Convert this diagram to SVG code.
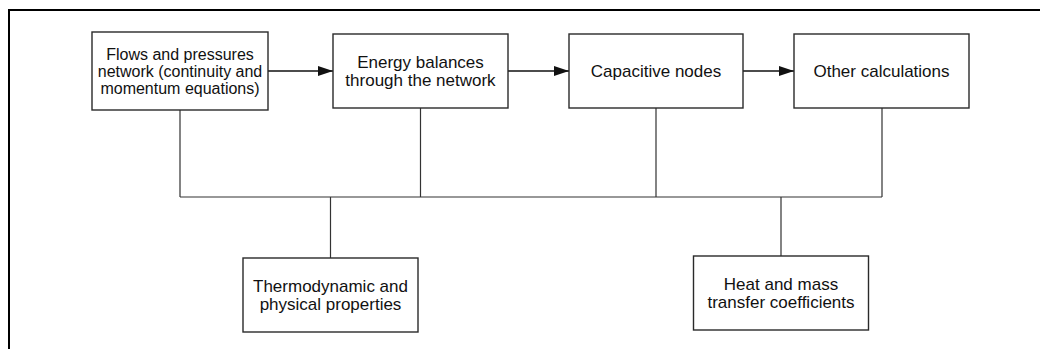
<svg xmlns="http://www.w3.org/2000/svg" width="1040" height="349" viewBox="0 0 1040 349">
  <style>
    .box { fill: #ffffff; stroke: #2a2a2a; stroke-width: 1.4; }
    .lbl { font-family: "Liberation Sans", Arial, sans-serif; font-size: 17px; fill: #111111; text-anchor: middle; }
    .small { font-size: 16px; }
    .wire { fill: none; stroke: #333333; stroke-width: 1.2; }
    .flow { fill: none; stroke: #111111; stroke-width: 1.3; marker-end: url(#head); }
  </style>
  <defs>
    <marker id="head" viewBox="0 0 15 10" refX="15" refY="5" markerWidth="15" markerHeight="10" markerUnits="userSpaceOnUse" orient="auto">
      <path d="M0,0 L15,5 L0,10 Z" fill="#111111"/>
    </marker>
  </defs>

  <rect x="0" y="0" width="1040" height="349" fill="#ffffff"/>
  <!-- outer frame, open at right and bottom -->
  <path d="M9,349 L9,10 L1040,10" fill="none" stroke="#000000" stroke-width="2"/>

  <g id="connectors">
    <line class="flow" x1="268" y1="71" x2="333" y2="71"/>
    <line class="flow" x1="508" y1="71" x2="569" y2="71"/>
    <line class="flow" x1="743" y1="71" x2="794" y2="71"/>
    <!-- shared bus to the property blocks -->
    <path class="wire" d="M180,110 V197 M420.5,108 V197 M656,108 V197 M882,108 V197 M180,197 H882 M330.5,197 V258 M781,197 V256"/>
  </g>

  <g id="flows-pressures">
    <rect class="box" x="92" y="32" width="176" height="78"/>
    <text class="lbl small" x="180" y="60">Flows and pressures</text>
    <text class="lbl small" x="180" y="77">network (continuity and</text>
    <text class="lbl small" x="180" y="94">momentum equations)</text>
  </g>

  <g id="energy-balances">
    <rect class="box" x="333" y="34" width="175" height="74"/>
    <text class="lbl" x="420.5" y="67.5">Energy balances</text>
    <text class="lbl" x="420.5" y="86">through the network</text>
  </g>

  <g id="capacitive-nodes">
    <rect class="box" x="569" y="34" width="174" height="74"/>
    <text class="lbl" x="656" y="77">Capacitive nodes</text>
  </g>

  <g id="other-calculations">
    <rect class="box" x="794" y="34" width="175" height="74"/>
    <text class="lbl" x="881.5" y="77">Other calculations</text>
  </g>

  <g id="thermo-properties">
    <rect class="box" x="243" y="258" width="175" height="74"/>
    <text class="lbl" x="330.5" y="291.5">Thermodynamic and</text>
    <text class="lbl" x="330.5" y="310">physical properties</text>
  </g>

  <g id="transfer-coefficients">
    <rect class="box" x="693.5" y="256" width="175" height="74"/>
    <text class="lbl" x="781" y="289.5">Heat and mass</text>
    <text class="lbl" x="781" y="308">transfer coefficients</text>
  </g>
</svg>
